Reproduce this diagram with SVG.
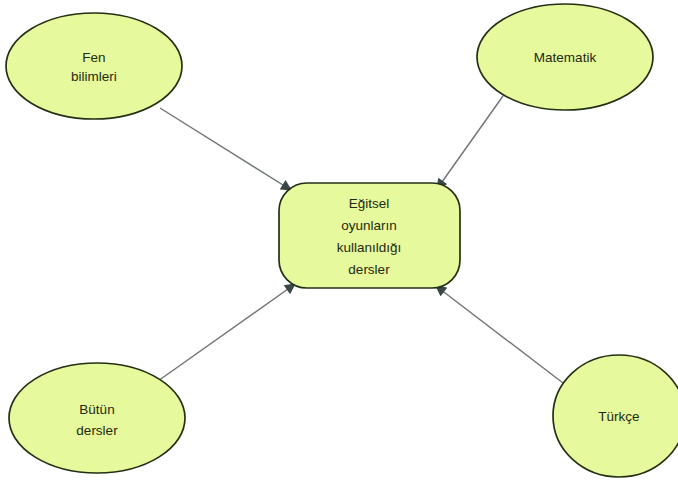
<svg xmlns="http://www.w3.org/2000/svg" width="678" height="483" viewBox="0 0 678 483">
<style>
.n{fill:#e6f99c;stroke:#243014;stroke-width:1.7}
.t{font-family:"Liberation Sans",Arial,sans-serif;font-size:13.5px;fill:#1e2a12;text-anchor:middle}
.c{stroke:#6e7478;stroke-width:1.4;fill:none;marker-end:url(#a)}
</style>
<defs>
<marker id="a" viewBox="0 0 10 10" refX="9" refY="5" markerWidth="12" markerHeight="11" markerUnits="userSpaceOnUse" orient="auto">
<path d="M0,0 L10,5 L0,10 z" fill="#3a4848"/>
</marker>
</defs>
<rect width="678" height="483" fill="#ffffff"/>
<g id="connectors">
<line class="c" x1="160" y1="108" x2="291" y2="190"/>
<line class="c" x1="503" y1="96" x2="437" y2="189"/>
<line class="c" x1="158" y1="381" x2="295" y2="284"/>
<line class="c" x1="563" y1="383" x2="436" y2="286"/>
</g>
<g id="fen">
<ellipse class="n" cx="94" cy="66" rx="88" ry="53"/>
<text class="t" x="94" y="62">Fen</text>
<text class="t" x="94" y="81">bilimleri</text>
</g>
<g id="matematik">
<ellipse class="n" cx="565" cy="57" rx="88" ry="53"/>
<text class="t" x="565" y="62">Matematik</text>
</g>
<g id="center">
<rect class="n" x="279" y="183" width="181" height="105" rx="28" ry="28"/>
<text class="t" x="369" y="208">Eğitsel</text>
<text class="t" x="369" y="230">oyunların</text>
<text class="t" x="369" y="252">kullanıldığı</text>
<text class="t" x="369" y="274">dersler</text>
</g>
<g id="butun">
<ellipse class="n" cx="97" cy="418" rx="88" ry="55"/>
<text class="t" x="97" y="414">Bütün</text>
<text class="t" x="97" y="435">dersler</text>
</g>
<g id="turkce">
<ellipse class="n" cx="619" cy="416" rx="66" ry="61"/>
<text class="t" x="619" y="421">Türkçe</text>
</g>
</svg>
